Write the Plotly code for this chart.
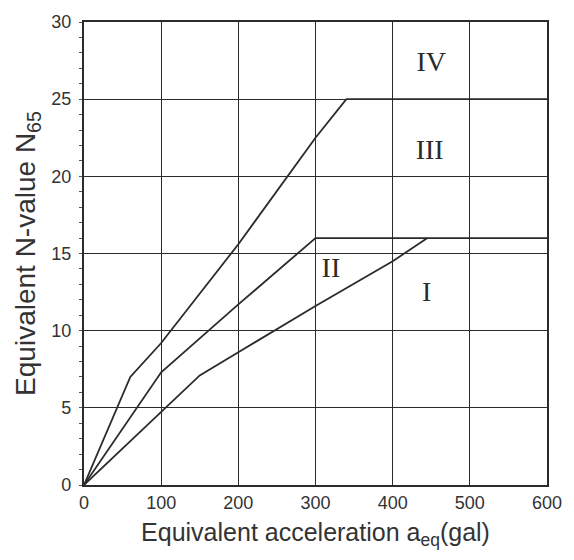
import plotly.graph_objects as go

# Boundary curves (equivalent acceleration gal, equivalent N-value)
b34_x = [0, 60, 100, 200, 300, 340, 600]
b34_y = [0, 7.0, 9.2, 15.6, 22.5, 25, 25]
b23_x = [0, 100, 200, 300, 600]
b23_y = [0, 7.3, 11.7, 16, 16]
b12_x = [0, 150, 200, 300, 400, 445]
b12_y = [0, 7.1, 8.6, 11.6, 14.5, 16]

zone_labels = ["IV", "III", "II", "I"]
zone_x = [450, 448, 320, 444]
zone_y = [27.3, 21.6, 13.9, 12.4]

x_ticks = [0, 100, 200, 300, 400, 500, 600]
y_ticks = [0, 5, 10, 15, 20, 25, 30]

ink = "#2b2b2b"
fig = go.Figure()
for xs, ys in [(b34_x, b34_y), (b23_x, b23_y), (b12_x, b12_y)]:
    fig.add_trace(go.Scatter(x=xs, y=ys, mode="lines",
                             line=dict(color=ink, width=1.8),
                             showlegend=False, hoverinfo="skip"))
fig.add_trace(go.Scatter(x=zone_x, y=zone_y, mode="text", text=zone_labels,
                         textfont=dict(family="Liberation Serif", size=28, color=ink),
                         showlegend=False, hoverinfo="skip"))

fig.update_layout(
    width=574, height=560,
    margin=dict(l=84, r=17, t=18, b=75),
    paper_bgcolor="white", plot_bgcolor="white",
    font=dict(family="Liberation Sans", color="#333333", size=18),
    xaxis=dict(range=[0, 600], tickvals=x_ticks, showgrid=True,
               gridcolor=ink, gridwidth=1.3, showline=True, mirror=True,
               linecolor=ink, linewidth=2.2, zeroline=False, ticks="",
               ticklabelstandoff=0,
               title=dict(text="Equivalent acceleration a<sub>eq</sub>(gal)",
                          font=dict(size=25), standoff=12)),
    yaxis=dict(range=[0, 30], tickvals=y_ticks, showgrid=True,
               gridcolor=ink, gridwidth=1.3, showline=True, mirror=True,
               linecolor=ink, linewidth=2.2, zeroline=False, ticks="",
               ticklabelstandoff=7,
               minor=dict(dtick=1, ticks="outside", ticklen=3, tickcolor="#555",
                          showgrid=False),
               title=dict(text="Equivalent N-value N<sub>65</sub>",
                          font=dict(size=28), standoff=7)),
)
fig.write_html("out.html")
